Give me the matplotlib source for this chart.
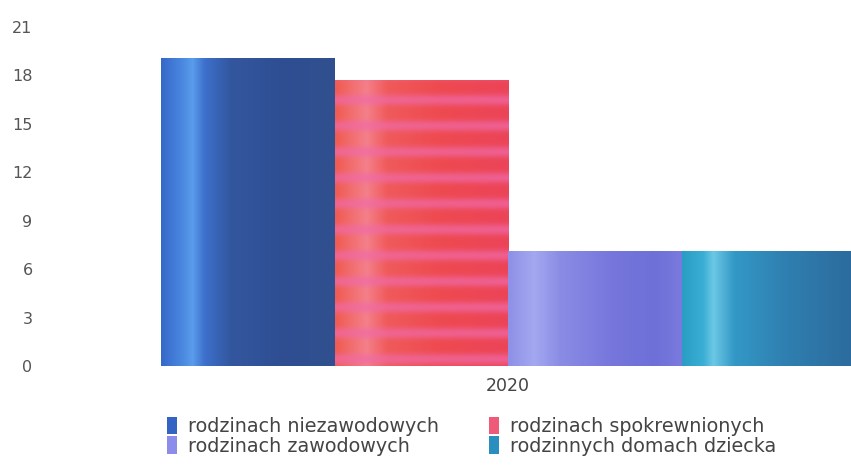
import numpy as np
import matplotlib
matplotlib.use("Agg")
import matplotlib.pyplot as plt
from matplotlib.colors import to_rgb
from matplotlib.patches import Patch

# data
years = ["2020"]
series = ["rodzinach niezawodowych", "rodzinach spokrewnionych",
          "rodzinach zawodowych", "rodzinnych domach dziecka"]
values = [19.1, 17.7, 7.1, 7.1]
yticks = [0, 3, 6, 9, 12, 15, 18, 21]

legend_colors = ["#3563c4", "#ee5a78", "#8c8ceb", "#2a8fbf"]

# horizontal colour stops used to imitate the scanned bar textures
bar_stops = [
    [(0.0, "#3568c8"), (0.12, "#4a88e0"), (0.18, "#5b9cec"), (0.25, "#3d70cc"),
     (0.40, "#33579f"), (0.7, "#2f4e92"), (1.0, "#30508f")],
    [(0.0, "#f05a50"), (0.18, "#f4808a"), (0.3, "#f05a5a"), (0.6, "#ee4a50"),
     (1.0, "#ec4458")],
    [(0.0, "#8e90e6"), (0.15, "#a4a8f0"), (0.3, "#8a8ce4"), (0.6, "#7676dc"),
     (0.85, "#6e70d8"), (1.0, "#7a7ade")],
    [(0.0, "#2a9dc4"), (0.12, "#3aaed4"), (0.18, "#6cc8e4"), (0.3, "#3398c6"),
     (0.6, "#2f7fb0"), (1.0, "#2c6a9c")],
]


def texture(stops, nx=200, ny=300, stripes=False):
    xs = np.linspace(0, 1, nx)
    pos = [s[0] for s in stops]
    cols = np.array([to_rgb(s[1]) for s in stops])
    row = np.stack([np.interp(xs, pos, cols[:, k]) for k in range(3)], axis=1)
    img = np.repeat(row[None, :, :], ny, axis=0)
    if stripes:
        ys = np.linspace(0, 1, ny)
        w = (0.5 + 0.5 * np.sin(ys * 2 * np.pi * 11)) ** 2
        pink = np.array(to_rgb("#f06aa8"))
        img = img * (1 - 0.7 * w[:, None, None]) + pink * 0.7 * w[:, None, None]
    return np.clip(img, 0, 1)


fig = plt.figure(figsize=(8.51, 4.66), dpi=100)
ax = fig.add_axes([0.053, 0.2146, 0.947, 0.7274])

n = len(series)
width = 1.0
offsets = (np.arange(n) - (n - 1) / 2) * width
for i, (name, val) in enumerate(zip(series, values)):
    x = offsets[i]
    bars = ax.bar(x, val, width=width, color=legend_colors[i], linewidth=0)
    img = texture(bar_stops[i], stripes=(i == 1))
    im = ax.imshow(img, extent=(x - width / 2, x + width / 2, 0, val),
                   aspect="auto", origin="lower", zorder=2, interpolation="bilinear")
    im.set_clip_path(bars[0])

# pixel layout: group from x=162 to ~855px, axes from 45px to 851px
ax.set_xlim(-2.67, 1.977)
ax.set_ylim(0, 21)
ax.set_xticks([0])
ax.set_xticklabels(years, fontsize=12.5, color="#444444")
ax.set_yticks(yticks)
ax.set_yticklabels([str(t) for t in yticks], fontsize=11.5, color="#555555")
ax.tick_params(length=0, pad=8)
ax.tick_params(axis="y", pad=9)
for sp in ax.spines.values():
    sp.set_visible(False)

# legend fills column-wise, so reorder to get the reference's row order
order = [0, 2, 1, 3]
handles = [Patch(facecolor=legend_colors[k], edgecolor="none") for k in order]
labels = [series[k] for k in order]
fig.legend(handles, labels, loc="upper left", bbox_to_anchor=(0.196, 0.106),
           ncol=2, frameon=False, fontsize=13.8, handlelength=0.55, handleheight=1.05,
           handletextpad=0.55, columnspacing=2.6, labelspacing=0.02,
           labelcolor="#444444", borderaxespad=0, borderpad=0)

fig.savefig("out.png", dpi=100)
